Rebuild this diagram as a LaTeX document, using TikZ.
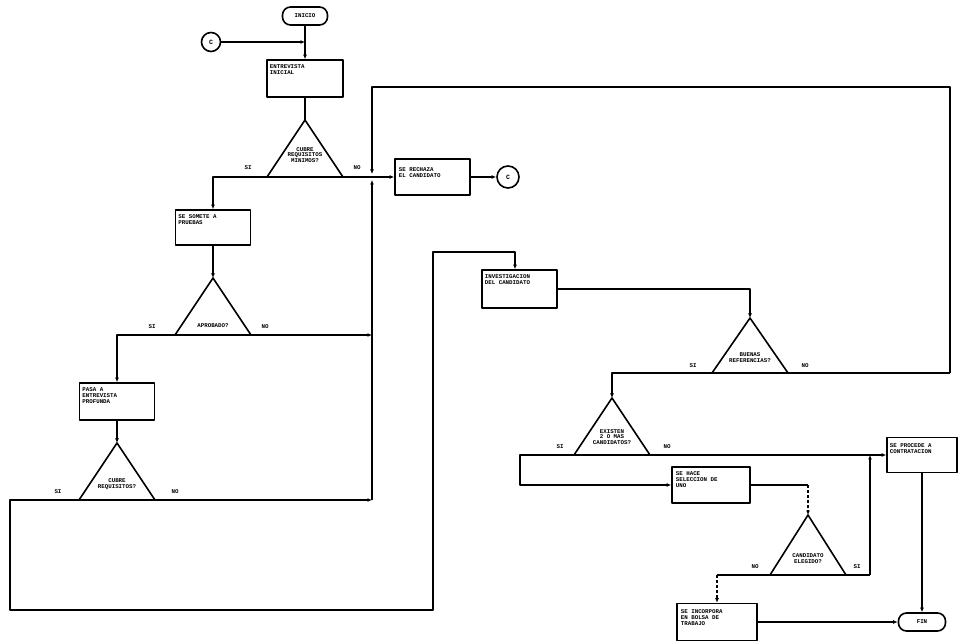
\documentclass[tikz,border=0pt]{standalone}
\usepackage{fontspec}
\setmonofont{Liberation Mono}
\usetikzlibrary{arrows.meta}
\begin{document}
\begin{tikzpicture}[x=1pt,y=-1pt,
  line width=1.3pt, line join=round,
  txt/.style={font=\ttfamily\bfseries\fontsize{5.8}{5.9}\selectfont, inner sep=0pt, align=left},
  ctxt/.style={font=\ttfamily\bfseries\fontsize{5.8}{5.9}\selectfont, inner sep=0pt, align=center},
  lab/.style={font=\ttfamily\bfseries\fontsize{5.8}{6}\selectfont, inner sep=0pt},
  box/.style={draw, line width=1.6pt, inner sep=0pt},
  term/.style={draw, line width=1.6pt, rounded corners=8pt, inner sep=0pt, font=\ttfamily\bfseries\fontsize{5.8}{6}\selectfont},
  conn/.style={draw, circle, line width=1.6pt, inner sep=0pt, font=\ttfamily\bfseries\fontsize{6.5}{6.5}\selectfont},
  tri/.style={draw, line width=1.6pt},
  arr/.style={-{Latex[length=4.5pt,width=4pt]}},
  dsh/.style={dash pattern=on 3pt off 2pt}
]
\useasboundingbox (0,0) rectangle (962,644);

% terminals and connectors
\node[term, minimum width=45pt, minimum height=18pt] (inicio) at (305,16) {INICIO};
\node[conn, minimum size=19pt] (cl) at (211,42) {C};
\node[conn, minimum size=22pt] (cr) at (508,177) {C};
\node[term, minimum width=47pt, minimum height=18pt] (fin) at (922,622) {FIN};

% boxes
\node[box, minimum width=76pt, minimum height=37pt] (entr) at (305,78.5) {};
\node[txt, anchor=north west] (entrt) at ([shift={(3,5)}]entr.north west) {ENTREVISTA\\INICIAL};
\node[box, minimum width=75pt, minimum height=36pt] (rech) at (432.5,177) {};
\node[txt, anchor=north west] (recht) at ([shift={(4,9)}]rech.north west) {SE RECHAZA\\EL CANDIDATO};
\node[box, minimum width=75pt, minimum height=35pt] (some) at (213,227.5) {};
\node[txt, anchor=north west] (somet) at ([shift={(3,5)}]some.north west) {SE SOMETE A\\PRUEBAS};
\node[box, minimum width=75pt, minimum height=37pt] (pasa) at (117,401.5) {};
\node[txt, anchor=north west] (pasat) at ([shift={(3,5)}]pasa.north west) {PASA A\\ENTREVISTA\\PROFUNDA};
\node[box, minimum width=75pt, minimum height=38pt] (inv) at (519.5,289) {};
\node[txt, anchor=north west] (invt) at ([shift={(3,5)}]inv.north west) {INVESTIGACION\\DEL CANDIDATO};
\node[box, minimum width=70pt, minimum height=35pt] (proc) at (922,455) {};
\node[txt, anchor=north west] (proct) at ([shift={(3,6)}]proc.north west) {SE PROCEDE A\\CONTRATACION};
\node[box, minimum width=78pt, minimum height=36pt] (hace) at (711,485) {};
\node[txt, anchor=north west] (hacet) at ([shift={(4,5)}]hace.north west) {SE HACE\\SELECCION DE\\UNO};
\node[box, minimum width=80pt, minimum height=37pt] (info) at (717,622) {};
\node[txt, anchor=north west] (infot) at ([shift={(4,6)}]info.north west) {SE INCORPORA\\EN BOLSA DE\\TRABAJO};

% decision triangles
\draw[tri] (305,120) coordinate (d1a) -- (343,177) coordinate (d1r) -- (267,177) coordinate (d1l) -- cycle;
\node[ctxt] (d1t) at (305,155) {CUBRE\\REQUISITOS\\MINIMOS?};
\draw[tri] (213,278) coordinate (d2a) -- (251,335) coordinate (d2r) -- (175,335) coordinate (d2l) -- cycle;
\node[ctxt] (d2t) at (213,326) {APROBADO?};
\draw[tri] (117,443) coordinate (d3a) -- (155,500) coordinate (d3r) -- (79,500) coordinate (d3l) -- cycle;
\node[ctxt] (d3t) at (117,484) {CUBRE\\REQUISITOS?};
\draw[tri] (750,318) coordinate (d4a) -- (788,373) coordinate (d4r) -- (712,373) coordinate (d4l) -- cycle;
\node[ctxt] (d4t) at (750,358) {BUENAS\\REFERENCIAS?};
\draw[tri] (612,398) coordinate (d5a) -- (650,455) coordinate (d5r) -- (574,455) coordinate (d5l) -- cycle;
\node[ctxt] (d5t) at (612,437) {EXISTEN\\2 O MAS\\CANDIDATOS?};
\draw[tri] (808,515) coordinate (d6a) -- (846,575) coordinate (d6r) -- (770,575) coordinate (d6l) -- cycle;
\node[ctxt] (d6t) at (808,559) {CANDIDATO\\ELEGIDO?};

% junction coordinates
\coordinate (j0) at (305,42);
\coordinate (j1) at (372,177);
\coordinate (j1a) at (372,174);
\coordinate (j1b) at (372,180);
\coordinate (j2) at (372,335);
\coordinate (j3) at (372,500);
\coordinate (t1) at (372,87);
\coordinate (t2) at (950,87);
\coordinate (t3) at (950,373);
\coordinate (b1) at (10,500);
\coordinate (b2) at (10,610);
\coordinate (b3) at (433,610);
\coordinate (b4) at (433,252);
\coordinate (b5) at (515,252);
\coordinate (e1) at (520,455);
\coordinate (e2) at (520,485);
\coordinate (k1) at (870,575);
\coordinate (k2) at (870,455);
\coordinate (h1) at (808,495);
\coordinate (h0) at (808,485);
\coordinate (i0) at (717,575);
\coordinate (i1) at (717,590);

% connectors
\draw[arr] (cl) -- (j0);
\draw[arr] (inicio) -- (entr);
\draw (entr) -- (d1a);
\draw[arr] (d1l) -| (some);
\draw (d1r) -- (j1);
\draw[arr] (j1) -- (rech);
\draw[arr] (rech) -- (cr);
\draw[arr] (some) -- (d2a);
\draw[arr] (d2l) -| (pasa);
\draw[arr] (d2r) -- (j2);
\draw[arr] (pasa) -- (d3a);
\draw[arr] (d3r) -- (j3);
\draw[arr] (j3) -- (j1b);
\draw[arr] (d3l) -- (b1) -- (b2) -- (b3) -- (b4) -- (b5) -- (inv.north -| b5);
\draw (d4r) -- (t3);
\draw[arr] (t3) -- (t2) -- (t1) -- (j1a);
\draw[arr] (inv.east) -| (d4a);
\draw[arr] (d4l) -| (d5a);
\draw[arr] (d5r) -- (proc.west |- d5r);
\draw[arr] (d5l) -- (e1) -- (e2) -- (hace.west);
\draw (hace.east) -- (h0);
\draw[arr, dsh] (h0) -- (d6a);
\draw (d6l) -- (i0);
\draw[arr, dsh] (i0) -- (info.north);
\draw (d6r) -- (k1);
\draw[arr] (k1) -- (k2);
\draw[arr] (proc) -- (fin);
\draw[arr] (info) -- (fin);

% branch labels
\node[lab] (s1) at (248,168) {SI};
\node[lab] (n1) at (357,168) {NO};
\node[lab] (s2) at (152,327) {SI};
\node[lab] (n2) at (265,327) {NO};
\node[lab] (s3) at (58,492) {SI};
\node[lab] (n3) at (175,492) {NO};
\node[lab] (s4) at (693,366) {SI};
\node[lab] (n4) at (805,366) {NO};
\node[lab] (s5) at (560,447) {SI};
\node[lab] (n5) at (667,447) {NO};
\node[lab] (n6) at (755,567) {NO};
\node[lab] (s6) at (857,567) {SI};
\end{tikzpicture}
\end{document}
